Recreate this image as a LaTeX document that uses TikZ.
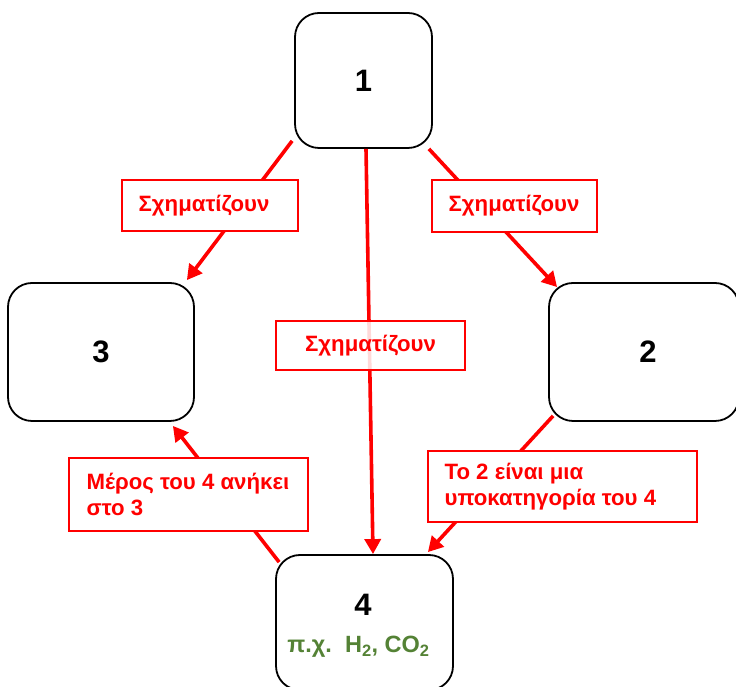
\documentclass[tikz,border=0pt]{standalone}
\usepackage{fontspec}
\setmainfont{Liberation Sans}
\usetikzlibrary{arrows.meta,calc}
\definecolor{grn}{RGB}{84,130,53}
\begin{document}
\begin{tikzpicture}[x=1pt,y=1pt,
  box/.style={draw=black,line width=1.8pt,rounded corners=24pt,fill=white,inner sep=0pt},
  lbl/.style={draw=red,line width=1.2pt,fill=white,inner sep=0pt},
  lbltext/.style={text=red,font=\fontsize{22.2}{25.5}\selectfont\bfseries,inner sep=0pt,align=left},
  arr/.style={red,line width=3.6pt,-{Triangle[length=15pt,width=16pt]}},
  num/.style={font=\fontsize{31}{34}\selectfont\bfseries}]
\useasboundingbox (0,0) rectangle (736,687);
% boxes
\node[box,num,minimum width=137pt,minimum height=135pt] (b1) at (363.5,606.5) {1};
\node[box,num,minimum width=186pt,minimum height=138pt] (b3) at (101,335) {3};
\node[box,num,minimum width=182pt,minimum height=138pt,text width=190pt,align=center] (b2) at (644,335) {\hspace*{8pt}2};
\node[box,minimum width=177pt,minimum height=135pt] (b4) at (364.5,64.5) {};
\node[num] (t4) at (363,82) {4};
\node[text=grn,font=\fontsize{23.5}{26}\selectfont\bfseries,anchor=base] (t4b) at (358.5,34) {π.χ.\ \ H\textsubscript{2}, CO\textsubscript{2}};
% arrows
\draw[arr] ($(b1.south west)+(-2,8)$) -- ($(b3.north east)+(-8,2)$);
\draw[arr] ($(b1.south east)+(-4,0)$) -- ($(b2.north west)+(9,-5)$);
\draw[arr] ($(b1.south)+(2.5,0)$) -- ($(b4.north)+(8.5,0)$);
\draw[arr] ($(b4.north west)+(4,-8)$) -- ($(b3.south east)+(-22,-4)$);
\draw[arr] ($(b2.south west)+(5,6)$) -- ($(b4.north east)+(-26,2)$);
% labels
\node[lbl,minimum width=176pt,minimum height=51pt] (l13) at (210,481.5) {};
\node[lbltext] (l13t) at (204,481.5) {Σχηματίζουν};
\node[lbl,minimum width=165pt,minimum height=52pt] (l12) at (514.5,481) {};
\node[lbltext] (l12t) at (514,481) {Σχηματίζουν};
\node[lbl,minimum width=189pt,minimum height=49pt,fill opacity=0.85] (l14) at (370.5,341.5) {};
\node[lbltext] (l14t) at (370.5,341.5) {Σχηματίζουν};
\node[lbl,minimum width=239pt,minimum height=73pt] (l43) at (188.5,192.5) {};
\node[lbltext,anchor=west] (l43t) at ($(l43.west)+(18,0)$) {Μέρος του 4 ανήκει\\στο 3};
\node[lbl,minimum width=269pt,minimum height=71pt] (l24) at (562.5,200.5) {};
\node[lbltext,anchor=west] (l24t) at ($(l24.west)+(17,0)$) {Το 2 είναι μια\\υποκατηγορία του 4};
\end{tikzpicture}
\end{document}
